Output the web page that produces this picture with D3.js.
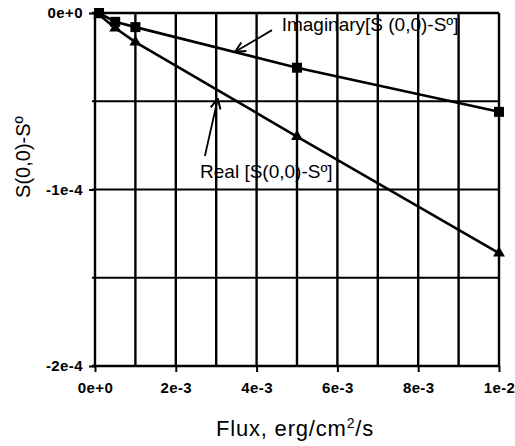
<!DOCTYPE html>
<html>
<head>
<meta charset="utf-8">
<script src="https://cdn.jsdelivr.net/npm/d3@7"></script>
<style>
  html, body { margin: 0; padding: 0; background: #fff; }
  svg { display: block; }
  text { font-family: "Liberation Sans", Arial, sans-serif; fill: #000; }
</style>
</head>
<body>
<svg id="chart" width="515" height="446"></svg>
<script>
// Flux values (erg/cm^2/s) at which S(0,0)-S° was evaluated
const flux = [1e-4, 5e-4, 1e-3, 5e-3, 1e-2];
// Imaginary part of S(0,0)-S°
const imagValues = [0, -5e-6, -8e-6, -3.1e-5, -5.6e-5];
// Real part of S(0,0)-S°
const realValues = [-1e-6, -8.5e-6, -1.65e-5, -7.0e-5, -1.36e-4];

const xTickLabels = ["0e+0", "2e-3", "4e-3", "6e-3", "8e-3", "1e-2"];
const yTickLabels = ["0e+0", "-1e-4", "-2e-4"];
const xTicks = [0, 2e-3, 4e-3, 6e-3, 8e-3, 1e-2];
const yTicks = [0, -1e-4, -2e-4];
const xGrid = d3.range(0, 11).map(i => i * 1e-3);
const yGrid = [0, -5e-5, -1e-4, -1.5e-4, -2e-4];

const svg = d3.select("#chart");
const x = d3.scaleLinear().domain([0, 1e-2]).range([95, 499]);
const y = d3.scaleLinear().domain([-2e-4, 0]).range([366, 13]);

// grid
const grid = svg.append("g");
grid.selectAll("line.v").data(xGrid).join("line")
  .attr("x1", d => x(d)).attr("x2", d => x(d))
  .attr("y1", y(0)).attr("y2", y(-2e-4))
  .attr("stroke", "#000").attr("stroke-width", 2.4);
grid.selectAll("line.h").data(yGrid).join("line")
  .attr("x1", x(0) - 3).attr("x2", x(1e-2))
  .attr("y1", d => y(d)).attr("y2", d => y(d))
  .attr("stroke", "#000").attr("stroke-width", d => (d === 0 || d === -2e-4) ? 2.6 : 1.8);

// axes
const xAxis = d3.axisBottom(x).tickValues(xTicks)
  .tickFormat((d, i) => xTickLabels[i]).tickSize(6).tickSizeOuter(0);
const gx = svg.append("g").attr("transform", `translate(0,${y(-2e-4)})`).call(xAxis);
gx.select(".domain").remove();
gx.selectAll(".tick line").attr("stroke", "#000").attr("stroke-width", 2);
gx.selectAll(".tick text").attr("dy", "1.2em")
  .style("font-size", "15px").style("font-weight", "bold").style("letter-spacing", "0.4px");

const yAxis = d3.axisLeft(y).tickValues(yTicks)
  .tickFormat((d, i) => yTickLabels[i]).tickSize(6).tickSizeOuter(0);
const gy = svg.append("g").attr("transform", `translate(${x(0)},0)`).call(yAxis);
gy.select(".domain").remove();
gy.selectAll(".tick line").attr("stroke", "#000").attr("stroke-width", 2);
gy.selectAll(".tick text").attr("dx", "-3px")
  .style("font-size", "15px").style("font-weight", "bold").style("letter-spacing", "0.4px");

// series lines
const line = d3.line().x(d => x(d[0])).y(d => y(d[1]));
const imagPts = flux.map((f, i) => [f, imagValues[i]]);
const realPts = flux.map((f, i) => [f, realValues[i]]);

svg.append("path").datum(imagPts).attr("d", line)
  .attr("fill", "none").attr("stroke", "#000").attr("stroke-width", 2.6);
svg.append("path").datum(realPts).attr("d", line)
  .attr("fill", "none").attr("stroke", "#000").attr("stroke-width", 2.6);

// markers
svg.append("g").selectAll("rect").data(imagPts).join("rect")
  .attr("x", d => x(d[0]) - 5).attr("y", d => y(d[1]) - 5)
  .attr("width", 10).attr("height", 10).attr("fill", "#000");
const tri = d3.symbol().type(d3.symbolTriangle).size(60);
svg.append("g").selectAll("path").data(realPts).join("path")
  .attr("d", tri)
  .attr("transform", d => `translate(${x(d[0])},${y(d[1])})`)
  .attr("fill", "#000");

// annotations (positions in data units)
const annotations = [
  { text: "Imaginary[S (0,0)-Sº]", tx: 4.62e-3, ty: -1.02e-5,
    from: [4.38e-3, -9.7e-6], to: [3.47e-3, -2.2e-5] },
  { text: "Real [S(0,0)-Sº]", tx: 2.6e-3, ty: -9.35e-5,
    from: [2.72e-3, -8.1e-5], to: [3.04e-3, -4.85e-5] }
];

svg.append("defs").append("marker")
  .attr("id", "arrow").attr("viewBox", "0 0 12 12")
  .attr("refX", 11).attr("refY", 6)
  .attr("markerWidth", 12).attr("markerHeight", 12)
  .attr("markerUnits", "userSpaceOnUse").attr("orient", "auto")
  .append("path").attr("d", "M1,1 L11,6 L1,11")
  .attr("fill", "none").attr("stroke", "#000").attr("stroke-width", 2);

const ann = svg.append("g");
ann.selectAll("line").data(annotations).join("line")
  .attr("x1", d => x(d.from[0])).attr("y1", d => y(d.from[1]))
  .attr("x2", d => x(d.to[0])).attr("y2", d => y(d.to[1]))
  .attr("stroke", "#000").attr("stroke-width", 1.8)
  .attr("marker-end", "url(#arrow)");
ann.selectAll("text").data(annotations).join("text")
  .attr("x", d => x(d.tx)).attr("y", d => y(d.ty))
  .style("font-size", "19px")
  .text(d => d.text);

// axis titles
svg.append("text").attr("x", 295).attr("y", 436)
  .attr("text-anchor", "middle").style("font-size", "22px").style("letter-spacing", "0.8px")
  .html('Flux, erg/cm<tspan baseline-shift="super" font-size="14px">2</tspan>/s');
svg.append("text")
  .attr("transform", "translate(30,157) rotate(-90)")
  .attr("text-anchor", "middle").style("font-size", "20px")
  .text("S(0,0)-Sº");
</script>
</body>
</html>
